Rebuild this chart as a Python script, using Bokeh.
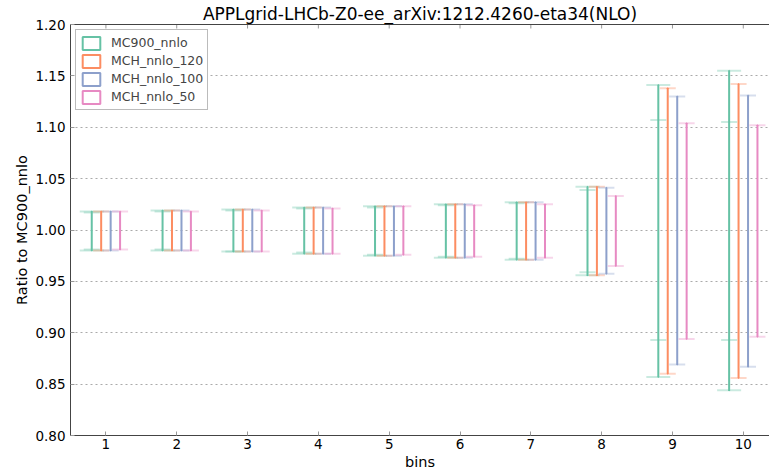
from bokeh.plotting import figure
from bokeh.models import Range1d, FixedTicker, PrintfTickFormatter, LinearAxis, Legend, LegendItem, ColumnDataSource
from bokeh.embed import file_html
from bokeh.resources import INLINE
import math

# ---- data ----
bins = [1, 2, 3, 4, 5, 6, 7, 8, 9, 10]
bin_labels = ["1", "2", "3", "4", "5", "6", "7", "8", "9", "10"]

mc900_lo = [0.980, 0.980, 0.979, 0.977, 0.975, 0.973, 0.971, 0.956, 0.857, 0.844]
mc900_hi = [1.018, 1.019, 1.020, 1.022, 1.023, 1.025, 1.027, 1.042, 1.141, 1.155]
mc900_in_lo = [0.981, 0.981, 0.979, 0.978, 0.976, 0.974, 0.972, 0.959, 0.893, 0.893]
mc900_in_hi = [1.017, 1.018, 1.019, 1.021, 1.022, 1.024, 1.026, 1.039, 1.107, 1.105]

mch120_lo = [0.980, 0.980, 0.979, 0.977, 0.975, 0.973, 0.971, 0.956, 0.860, 0.856]
mch120_hi = [1.018, 1.019, 1.020, 1.022, 1.023, 1.025, 1.027, 1.042, 1.138, 1.142]

mch100_lo = [0.980, 0.980, 0.979, 0.977, 0.975, 0.973, 0.971, 0.9575, 0.869, 0.867]
mch100_hi = [1.018, 1.019, 1.020, 1.022, 1.023, 1.025, 1.027, 1.041, 1.130, 1.131]

mch50_lo = [0.981, 0.980, 0.979, 0.977, 0.976, 0.974, 0.973, 0.965, 0.894, 0.896]
mch50_hi = [1.018, 1.018, 1.019, 1.021, 1.023, 1.024, 1.025, 1.033, 1.104, 1.102]

series_names = ["MC900_nnlo", "MCH_nnlo_120", "MCH_nnlo_100", "MCH_nnlo_50"]
series_colors = ["#66c2a5", "#fc8d62", "#8da0cb", "#e78ac3"]
series_offsets = [-0.2, -0.067, 0.067, 0.2]
series_lo = [mc900_lo, mch120_lo, mch100_lo, mch50_lo]
series_hi = [mc900_hi, mch120_hi, mch100_hi, mch50_hi]

y_ticks = [0.80, 0.85, 0.90, 0.95, 1.00, 1.05, 1.10, 1.15, 1.20]
Y_MIN, Y_MAX = 0.8, 1.2

FONT = "DejaVu Sans"

p = figure(width=769, height=474, output_backend="svg", toolbar_location=None,
           x_range=Range1d(0.5, 10.37), y_range=Range1d(Y_MIN, Y_MAX),
           min_border_left=70, min_border_right=0, min_border_bottom=39, min_border_top=0,
           title="APPLgrid-LHCb-Z0-ee_arXiv:1212.4260-eta34(NLO)")
p.title.align = "center"
p.title.text_font = FONT
p.title.text_font_size = "17px"
p.title.text_font_style = "normal"
p.title.text_color = "black"
p.title.standoff = 2
p.outline_line_color = None
p.background_fill_color = "white"
p.border_fill_color = "white"

# axes
for ax in (p.xaxis[0], p.yaxis[0]):
    ax.axis_line_color = "#444444"
    ax.major_tick_in = 4
    ax.major_tick_out = 0
    ax.minor_tick_in = 0
    ax.minor_tick_out = 0
    ax.major_tick_line_color = "#999999"
    ax.major_label_text_font = FONT
    ax.major_label_text_font_size = "13.5px"
    ax.major_label_text_color = "black"
    ax.axis_label_text_font = FONT
    ax.axis_label_text_font_size = "14.5px"
    ax.axis_label_text_font_style = "normal"
    ax.axis_label_text_color = "black"

p.xaxis.ticker = FixedTicker(ticks=bins)
p.xaxis.major_label_overrides = {b: l for b, l in zip(bins, bin_labels)}
p.xaxis.axis_label = "bins"
p.xaxis.major_label_standoff = 3
p.xaxis.axis_label_standoff = 2
p.yaxis.ticker = FixedTicker(ticks=y_ticks)
p.yaxis.formatter = PrintfTickFormatter(format="%.2f")
p.yaxis.axis_label = "Ratio to MC900_nnlo"
p.yaxis.major_label_standoff = 5
p.yaxis.axis_label_standoff = 2

# top frame line (no labels)
top = LinearAxis(ticker=FixedTicker(ticks=[]), axis_line_color="#444444",
                 major_tick_in=0, major_tick_out=0, minor_tick_in=0, minor_tick_out=0,
                 major_label_standoff=0)
p.add_layout(top, "above")
# inward ticks along the top edge at bin positions
p.scatter(x=bins, y=[Y_MAX] * len(bins), marker="dash", angle=math.pi / 2, size=8,
          line_color="#999999", line_width=1)

p.xgrid.grid_line_color = None
p.ygrid.ticker = FixedTicker(ticks=y_ticks)
p.ygrid.grid_line_color = "#aaaaaa"
p.ygrid.grid_line_dash = "2 3"
p.ygrid.grid_line_width = 1

items = []
for name, color, off, lo, hi in zip(series_names, series_colors, series_offsets, series_lo, series_hi):
    xs = [b + off for b in bins]
    src = ColumnDataSource(dict(x=xs, lo=lo, hi=hi))
    capsize = 24 if name == "MC900_nnlo" else 16
    p.scatter(x="x", y="lo", source=src, marker="dash", size=capsize, line_color=color,
              line_width=2, line_alpha=0.35, fill_alpha=0)
    p.scatter(x="x", y="hi", source=src, marker="dash", size=capsize, line_color=color,
              line_width=2, line_alpha=0.35, fill_alpha=0)
    if name == "MC900_nnlo":
        src_in = ColumnDataSource(dict(x=xs, lo=mc900_in_lo, hi=mc900_in_hi))
        p.scatter(x="x", y="lo", source=src_in, marker="dash", size=16, line_color=color,
                  line_width=2, line_alpha=0.35, fill_alpha=0)
        p.scatter(x="x", y="hi", source=src_in, marker="dash", size=16, line_color=color,
                  line_width=2, line_alpha=0.35, fill_alpha=0)
    r = p.vbar(x="x", width=0.0001, bottom="lo", top="hi", source=src,
               line_color=color, line_width=2, fill_alpha=0)
    items.append(LegendItem(label=name, renderers=[r]))

legend = Legend(items=items, location="top_left")
legend.label_text_font = FONT
legend.label_text_font_size = "12.5px"
legend.label_height = 17
legend.glyph_height = 16
legend.glyph_width = 22
legend.spacing = 1
legend.padding = 4
legend.margin = 5
legend.label_standoff = 9
legend.border_line_color = "#777777"
legend.border_line_width = 1
legend.background_fill_alpha = 1
p.add_layout(legend)

open("out.html", "w").write(file_html(p, INLINE))
